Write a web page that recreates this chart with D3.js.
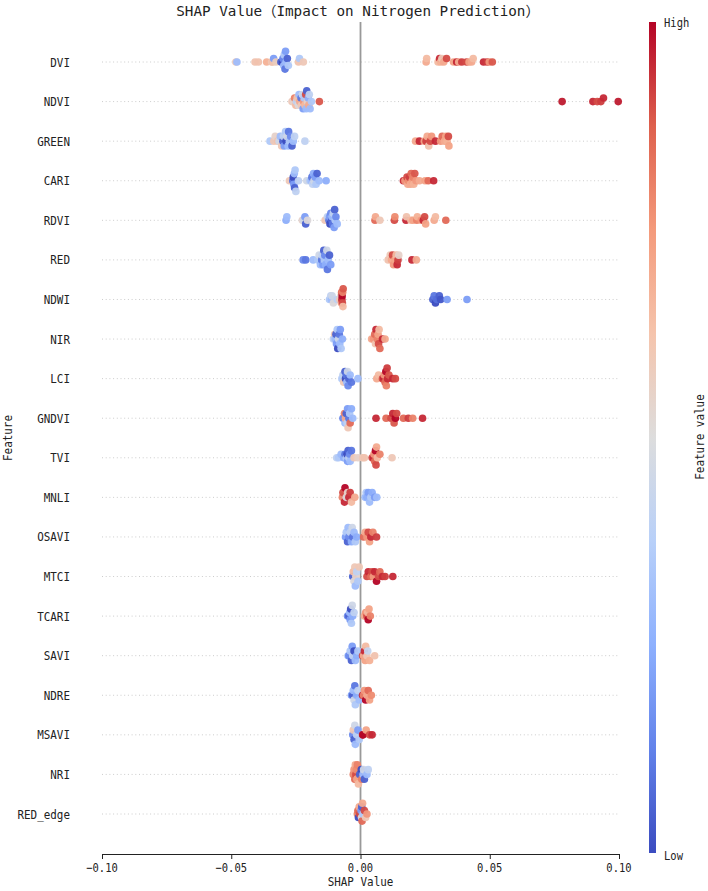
<!DOCTYPE html>
<html>
<head>
<meta charset="utf-8">
<script src="https://cdn.jsdelivr.net/npm/d3@7"></script>
<style>
  body { margin: 0; background: #fff; }
</style>
</head>
<body>
<svg id="chart" width="708" height="891"></svg>
<script>
// feature order, top to bottom
var featureNames = ["DVI", "NDVI", "GREEN", "CARI", "RDVI", "RED", "NDWI", "NIR", "LCI", "GNDVI",
                    "TVI", "MNLI", "OSAVI", "MTCI", "TCARI", "SAVI", "NDRE", "MSAVI", "NRI", "RED_edge"]

// [shap value, normalised feature value] per sample
var DVI = [[-0.0482,0.6],[-0.0478,0.3],[-0.0408,0.62],[-0.0395,0.62],[-0.0363,0.68],[-0.0344,0.6],[-0.0340,0.62],[-0.0336,0.2],
  [-0.0327,0.58],[-0.0308,0.05],[-0.0302,0.0],[-0.0300,0.15],[-0.0297,0.3],[-0.0295,0.35],[-0.0292,0.1],[-0.0290,0.2],
  [-0.0288,0.3],[-0.0283,0.05],[-0.0279,0.35],[-0.0240,0.62],[-0.0236,0.35],[-0.0221,0.6],
  [0.0254,0.7],[0.0256,0.65],[0.0300,0.65],[0.0306,0.95],[0.0310,0.68],[0.0315,0.6],[0.0322,0.7],[0.0333,0.9],
  [0.0360,0.72],[0.0372,0.95],[0.0380,0.7],[0.0392,0.92],[0.0410,0.9],[0.0420,0.72],[0.0430,0.7],[0.0436,0.65],
  [0.0476,0.95],[0.0490,0.92],[0.0498,0.75],[0.0510,0.88]]
var NDVI = [[-0.0265,0.6],[-0.0260,0.55],[-0.0255,0.8],[-0.0250,0.65],[-0.0248,0.4],[-0.0245,0.62],[-0.0240,0.5],[-0.0238,0.3],
  [-0.0235,0.7],[-0.0230,0.1],[-0.0228,0.6],[-0.0225,0.45],[-0.0222,0.2],[-0.0220,0.75],[-0.0218,0.35],[-0.0215,0.65],
  [-0.0212,0.9],[-0.0210,0.3],[-0.0208,0.05],[-0.0205,0.55],[-0.0202,0.25],[-0.0200,0.7],[-0.0198,0.4],[-0.0195,0.3],
  [-0.0190,0.35],[-0.0159,0.88],
  [0.0780,0.97],[0.0899,0.95],[0.0916,0.9],[0.0930,0.92],[0.0940,0.95],[0.0997,0.97]]
var GREEN = [[-0.0350,0.35],[-0.0335,0.6],[-0.0330,0.55],[-0.0320,0.62],[-0.0315,0.45],[-0.0310,0.3],[-0.0305,0.6],[-0.0300,0.05],
  [-0.0298,0.4],[-0.0295,0.2],[-0.0290,0.35],[-0.0288,0.0],[-0.0285,0.45],[-0.0280,0.3],[-0.0278,0.1],[-0.0275,0.35],
  [-0.0270,0.15],[-0.0265,0.05],[-0.0260,0.3],[-0.0255,0.4],[-0.0215,0.4],
  [0.0213,0.7],[0.0228,0.95],[0.0247,0.72],[0.0254,0.92],[0.0258,0.7],[0.0264,0.62],[0.0270,0.9],[0.0275,0.75],
  [0.0290,0.95],[0.0310,0.75],[0.0316,0.85],[0.0325,0.7],[0.0330,0.72],[0.0335,0.68],[0.0340,0.9],[0.0342,0.72]]
var CARI = [[-0.0275,0.6],[-0.0262,0.1],[-0.0260,0.0],[-0.0258,0.2],[-0.0256,0.3],[-0.0255,0.05],[-0.0253,0.35],[-0.0250,0.4],
  [-0.0240,0.4],[-0.0208,0.45],[-0.0195,0.35],[-0.0190,0.3],[-0.0188,0.1],[-0.0185,0.4],[-0.0182,0.25],[-0.0180,0.45],
  [-0.0175,0.2],[-0.0172,0.35],[-0.0168,0.05],[-0.0160,0.3],[-0.0133,0.25],
  [0.0166,0.95],[0.0172,0.75],[0.0180,0.9],[0.0183,0.7],[0.0186,0.78],[0.0190,0.92],[0.0193,0.7],[0.0196,0.85],
  [0.0200,0.72],[0.0203,0.8],[0.0206,0.68],[0.0210,0.88],[0.0215,0.75],[0.0228,0.7],[0.0250,0.72],[0.0262,0.85],[0.0283,0.95]]
var RDVI = [[-0.0288,0.25],[-0.0285,0.3],[-0.0225,0.55],[-0.0220,0.45],[-0.0215,0.2],[-0.0212,0.05],[-0.0205,0.5],[-0.0137,0.6],
  [-0.0128,0.4],[-0.0122,0.1],[-0.0120,0.2],[-0.0118,0.0],[-0.0115,0.15],[-0.0112,0.05],[-0.0110,0.3],[-0.0108,0.1],
  [-0.0105,0.4],[-0.0102,0.2],[-0.0100,0.05],[-0.0098,0.35],[-0.0095,0.15],[-0.0090,0.3],
  [0.0056,0.85],[0.0058,0.7],[0.0075,0.6],[0.0131,0.9],[0.0133,0.78],[0.0176,0.95],[0.0178,0.62],[0.0195,0.65],
  [0.0203,0.72],[0.0218,0.8],[0.0220,0.68],[0.0235,0.75],[0.0243,0.95],[0.0248,0.9],[0.0252,0.72],[0.0285,0.7],
  [0.0290,0.65],[0.0330,0.85]]
var RED = [[-0.0222,0.15],[-0.0212,0.1],[-0.0183,0.3],[-0.0165,0.35],[-0.0160,0.45],[-0.0155,0.3],[-0.0150,0.1],[-0.0148,0.4],
  [-0.0145,0.2],[-0.0142,0.05],[-0.0140,0.35],[-0.0138,0.15],[-0.0135,0.25],[-0.0130,0.45],[-0.0128,0.1],[-0.0125,0.3],
  [-0.0120,0.05],[-0.0115,0.2],
  [0.0107,0.62],[0.0115,0.6],[0.0120,0.7],[0.0124,0.9],[0.0128,0.75],[0.0133,0.72],[0.0138,0.65],[0.0142,0.95],
  [0.0145,0.92],[0.0148,0.55],[0.0199,0.95],[0.0216,0.7]]
var NDWI = [[-0.0120,0.35],[-0.0115,0.4],[-0.0112,0.3],[-0.0110,0.45],[-0.0105,0.5],[-0.0090,0.4],[-0.0080,0.6],[-0.0076,0.55],
  [-0.0074,0.7],[-0.0073,0.85],[-0.0072,0.95],[-0.0071,1.0],[-0.0070,0.9],[-0.0069,0.8],[-0.0068,0.65],[-0.0067,0.88],
  [0.0280,0.05],[0.0285,0.1],[0.0290,0.0],[0.0295,0.08],[0.0305,0.05],[0.0310,0.02],[0.0335,0.2],[0.0412,0.2]]
var NIR = [[-0.0105,0.4],[-0.0100,0.6],[-0.0098,0.3],[-0.0095,0.05],[-0.0093,0.2],[-0.0090,0.35],[-0.0088,0.0],[-0.0085,0.45],
  [-0.0082,0.1],[-0.0080,0.3],[-0.0078,0.2],[-0.0075,0.35],[-0.0070,0.25],
  [0.0043,0.7],[0.0050,0.75],[0.0055,0.85],[0.0058,0.62],[0.0060,0.95],[0.0065,0.8],[0.0068,0.72],[0.0070,0.9],
  [0.0072,0.65],[0.0075,0.85],[0.0085,0.95],[0.0095,0.7]]
var LCI = [[-0.0072,0.35],[-0.0068,0.4],[-0.0065,0.6],[-0.0060,0.05],[-0.0058,0.0],[-0.0055,0.1],[-0.0053,0.3],[-0.0050,0.45],
  [-0.0048,0.15],[-0.0045,0.05],[-0.0040,0.3],[-0.0035,0.1],[-0.0010,0.3],
  [0.0063,0.7],[0.0070,0.65],[0.0085,0.9],[0.0090,0.95],[0.0092,0.75],[0.0095,0.85],[0.0098,1.0],[0.0100,0.8],
  [0.0103,0.92],[0.0105,0.95],[0.0110,0.88],[0.0125,0.95],[0.0135,0.9]]
var GNDVI = [[-0.0068,0.15],[-0.0062,0.8],[-0.0060,0.3],[-0.0058,0.7],[-0.0055,0.05],[-0.0052,0.4],[-0.0050,0.2],[-0.0048,0.6],
  [-0.0045,0.1],[-0.0042,0.35],[-0.0040,0.85],[-0.0035,0.25],[-0.0030,0.3],
  [0.0060,0.95],[0.0099,0.85],[0.0118,0.9],[0.0125,0.95],[0.0130,0.88],[0.0135,1.0],[0.0140,0.9],[0.0166,0.85],
  [0.0185,0.92],[0.0202,0.8],[0.0240,0.95]]
var TVI = [[-0.0092,0.4],[-0.0085,0.35],[-0.0075,0.3],[-0.0065,0.25],[-0.0060,0.1],[-0.0055,0.35],[-0.0052,0.0],[-0.0050,0.2],
  [-0.0048,0.05],[-0.0045,0.4],[-0.0042,0.15],[-0.0040,0.3],[-0.0035,0.1],[-0.0025,0.6],[-0.0010,0.55],
  [0.0008,0.6],[0.0015,0.62],[0.0045,0.9],[0.0050,0.95],[0.0052,0.75],[0.0055,0.85],[0.0058,1.0],[0.0060,0.9],
  [0.0062,0.7],[0.0065,0.65],[0.0075,0.8],[0.0122,0.6]]
var MNLI = [[-0.0070,0.8],[-0.0068,0.9],[-0.0062,0.95],[-0.0060,1.0],[-0.0055,0.5],[-0.0050,0.55],[-0.0045,0.95],[-0.0040,0.92],
  [-0.0035,0.65],[-0.0022,0.7],
  [0.0018,0.3],[0.0022,0.35],[0.0025,0.25],[0.0030,0.2],[0.0035,0.3],[0.0040,0.35],[0.0045,0.25],[0.0055,0.2],[0.0063,0.3]]
var OSAVI = [[-0.0058,0.2],[-0.0055,0.35],[-0.0050,0.05],[-0.0048,0.3],[-0.0045,0.15],[-0.0040,0.4],[-0.0035,0.25],[-0.0032,0.45],
  [-0.0030,0.1],[-0.0025,0.3],[-0.0020,0.35],[-0.0015,0.25],
  [0.0012,0.85],[0.0018,0.7],[0.0025,0.75],[0.0030,0.9],[0.0035,0.72],[0.0040,0.95],[0.0048,0.8],[0.0062,0.92]]
var MTCI = [[-0.0030,0.05],[-0.0028,0.65],[-0.0025,0.5],[-0.0022,0.6],[-0.0020,0.3],[-0.0018,0.55],[-0.0015,0.4],[-0.0010,0.35],
  [-0.0005,0.6],
  [0.0025,0.9],[0.0030,0.95],[0.0040,0.85],[0.0045,0.9],[0.0050,0.75],[0.0055,0.95],[0.0062,1.0],[0.0070,0.9],
  [0.0075,0.85],[0.0085,0.95],[0.0095,0.92],[0.0125,0.95]]
var TCARI = [[-0.0050,0.15],[-0.0045,0.05],[-0.0042,0.3],[-0.0040,0.2],[-0.0038,0.0],[-0.0035,0.35],[-0.0032,0.45],[-0.0030,0.25],
  [-0.0025,0.4],
  [0.0015,0.7],[0.0020,0.75],[0.0025,0.9],[0.0028,0.65],[0.0030,1.0],[0.0033,0.72],[0.0038,0.8]]
var SAVI = [[-0.0048,0.3],[-0.0045,0.15],[-0.0040,0.35],[-0.0035,0.05],[-0.0032,0.2],[-0.0030,0.4],[-0.0025,0.0],[-0.0020,0.3],
  [-0.0015,0.25],[-0.0010,0.35],
  [0.0008,0.9],[0.0012,0.7],[0.0015,0.95],[0.0018,0.72],[0.0020,0.65],[0.0025,0.6],[0.0028,0.42],[0.0035,0.68],[0.0055,0.62]]
var NDRE = [[-0.0035,0.2],[-0.0030,0.05],[-0.0028,0.3],[-0.0025,0.45],[-0.0022,0.1],[-0.0020,0.35],[-0.0015,0.25],[-0.0010,0.4],
  [-0.0005,0.3],
  [0.0008,0.95],[0.0012,0.8],[0.0015,0.75],[0.0020,1.0],[0.0025,0.7],[0.0030,0.85],[0.0035,0.72],[0.0042,0.78]]
var MSAVI = [[-0.0030,0.15],[-0.0028,0.6],[-0.0025,0.05],[-0.0022,0.45],[-0.0020,0.3],[-0.0015,0.4],[-0.0010,0.2],[-0.0005,0.35],
  [0.0008,0.95],[0.0010,1.0],[0.0022,0.72],[0.0035,0.9],[0.0045,0.95]]
var NRI = [[-0.0028,0.8],[-0.0025,0.75],[-0.0022,0.85],[-0.0020,0.7],[-0.0018,0.9],[-0.0016,0.78],[-0.0014,0.72],[-0.0012,0.8],
  [-0.0008,0.65],[-0.0003,0.05],
  [0.0003,0.0],[0.0005,0.8],[0.0010,0.3],[0.0012,0.45],[0.0015,0.05],[0.0025,0.3],[0.0030,0.4]]
var RED_edge = [[-0.0012,0.8],[-0.0010,0.85],[-0.0008,0.0],[-0.0005,0.7],[-0.0003,0.9],
  [0.0002,0.2],[0.0004,0.5],[0.0005,0.05],[0.0006,0.85],[0.0008,0.7],[0.0010,0.35],[0.0015,0.9],[0.0020,0.6],[0.0025,0.75]]

var featureRows = [DVI, NDVI, GREEN, CARI, RDVI, RED, NDWI, NIR, LCI, GNDVI,
                   TVI, MNLI, OSAVI, MTCI, TCARI, SAVI, NDRE, MSAVI, NRI, RED_edge]

var xTicks = [-0.10, -0.05, 0.00, 0.05, 0.10]

// matplotlib coolwarm stops
var coolwarm = ["#3b4cc0", "#6282ea", "#8db0fe", "#b8d0f9", "#dddddd", "#f5c4ac", "#f49a7b", "#de604d", "#b40426"]

var svg = d3.select("#chart")
var monoFont = "'DejaVu Sans Mono', 'Noto Sans CJK JP', monospace"

var x = d3.scaleLinear().domain([-0.1, 0.1]).range([102, 619])
var y = d3.scalePoint().domain(featureNames).range([62, 814])
var rowGap = y.step()
var color = d3.scaleSequential(d3.interpolateRgbBasis(coolwarm)).domain([0, 1])

// narrow text, like the half-width gothic font of the original
function label(g, str, tx, ty, size, anchor, sx, rot) {
  return g.append("text")
    .attr("transform", "translate(" + tx + "," + ty + ")" + (rot ? " rotate(" + rot + ")" : "") + " scale(" + sx + ",1)")
    .attr("text-anchor", anchor)
    .attr("font-family", monoFont)
    .attr("font-size", size)
    .attr("fill", "#222")
    .text(str)
}

// shap-style beeswarm: bin along x, stack alternately up / down
function swarm(points) {
  var binW = 3.5
  var items = points.map(function (p, i) { return { s: p[0], v: p[1], px: x(p[0]), i: i } })
  var order = items.slice().sort(function (a, b) { return a.px - b.px })
  var lastBin = null, layer = 0, maxK = 0
  order.forEach(function (d) {
    var bin = Math.round((d.px - 102) / binW)
    if (bin !== lastBin) { layer = 0; lastBin = bin }
    d.k = Math.ceil(layer / 2) * ((layer % 2) * 2 - 1)
    layer++
    maxK = Math.max(maxK, Math.abs(d.k))
  })
  var step = 0.9 * 0.4 * rowGap / (maxK + 1)
  items.forEach(function (d) { d.dy = -d.k * step })
  return items
}

// row guide lines
svg.append("g").selectAll("line")
  .data(featureNames).enter().append("line")
  .attr("x1", 102).attr("x2", 619)
  .attr("y1", d => y(d)).attr("y2", d => y(d))
  .attr("stroke", "#cccccc")
  .attr("stroke-width", 1)
  .attr("stroke-dasharray", "1,2.7")

// zero line
svg.append("line")
  .attr("x1", x(0)).attr("x2", x(0))
  .attr("y1", 22).attr("y2", 854)
  .attr("stroke", "#999999")
  .attr("stroke-width", 1.8)

// dots
featureNames.forEach(function (name, fi) {
  var pts = swarm(featureRows[fi])
  svg.append("g").selectAll("circle")
    .data(pts).enter().append("circle")
    .attr("cx", d => d.px)
    .attr("cy", d => y(name) + d.dy)
    .attr("r", 3.8)
    .attr("fill", d => color(d.v))
    .attr("opacity", 0.95)
})

// feature labels
var labelG = svg.append("g")
featureNames.forEach(function (name) {
  label(labelG, name, 70, y(name) + 4.5, 13, "end", 0.84)
})

// x axis
var axisG = svg.append("g")
  .attr("transform", "translate(0,854)")
  .call(d3.axisBottom(x).tickValues(xTicks).tickSize(5).tickFormat(d3.format(".2f")))
axisG.select(".domain").attr("stroke", "#222")
axisG.selectAll(".tick line").attr("stroke", "#222")
axisG.selectAll(".tick text").remove()
xTicks.forEach(function (t) {
  label(axisG, d3.format(".2f")(t).replace("-", "\u2212"), x(t), 18, 12.5, "middle", 0.84)
})

label(svg, "SHAP Value", x(0), 886, 13, "middle", 0.84)
label(svg, "Feature", 12, 438, 13, "middle", 0.84, -90)
label(svg, "SHAP Value\uff08Impact on Nitrogen Prediction\uff09", 358, 16, 14, "middle", 1.02)

// colour bar
var defs = svg.append("defs")
var grad = defs.append("linearGradient").attr("id", "cbar")
  .attr("x1", 0).attr("y1", 1).attr("x2", 0).attr("y2", 0)
coolwarm.forEach(function (c, i) {
  grad.append("stop").attr("offset", i / (coolwarm.length - 1)).attr("stop-color", c)
})
svg.append("rect")
  .attr("x", 649).attr("y", 22)
  .attr("width", 7).attr("height", 831)
  .attr("fill", "url(#cbar)")

label(svg, "High", 664, 27, 12.5, "start", 0.84)
label(svg, "Low", 664, 860, 12.5, "start", 0.84)
label(svg, "Feature value", 704, 437, 13, "middle", 0.84, -90)
</script>
</body>
</html>
